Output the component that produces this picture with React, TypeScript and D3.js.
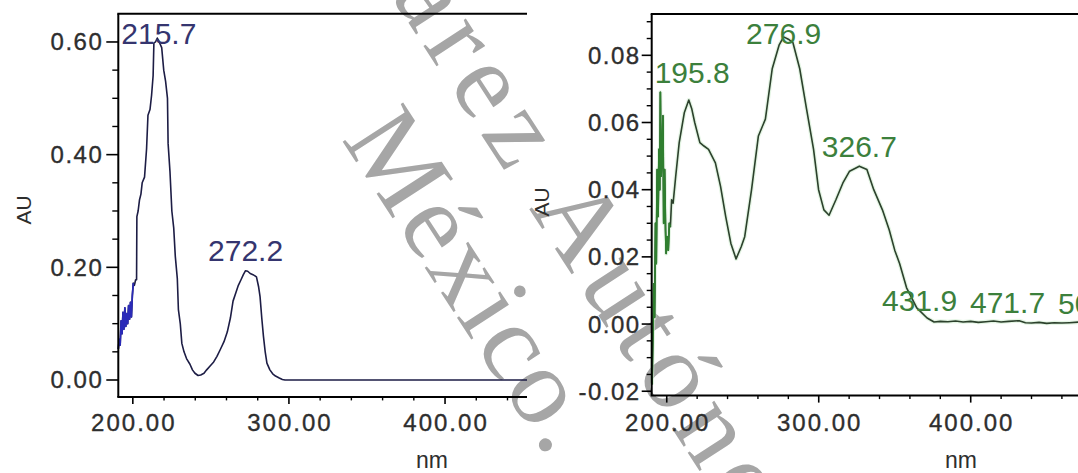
import React from 'react';
import * as d3 from 'd3';

// ---- Left spectrum (blue trace) ----
const LEFT_NM = [
  190.7, 191.3, 191.9, 192.5, 193.1, 193.7, 194.3, 194.9, 195.5, 196.1, 196.7, 197.3, 197.9, 198.5,
  199.1, 199.7, 200.3, 201.0, 201.8, 202.4, 202.6, 203.4, 204.3, 205.2, 206.0, 207.5, 208.8, 209.7,
  211.0, 212.0, 213.0, 213.5, 214.5, 215.7, 216.9, 218.5, 219.8, 221.0, 222.2, 222.6, 223.8, 225.0,
  226.2, 227.2, 228.5, 229.2, 230.4, 231.4, 232.8, 234.4, 236.6, 238.2, 239.8, 241.8, 243.5, 245.6,
  247.3, 249.5, 251.8, 253.9, 256.2, 258.4, 260.5, 262.5, 264.2, 266.0, 267.6, 269.3, 270.8, 272.2,
  273.6, 275.2, 277.0, 279.2, 280.6, 281.5, 282.6, 283.7, 284.8, 285.9, 287.8, 289.6, 291.4, 293.5,
  295.8, 297.5, 452.5,
];
const LEFT_AU = [
  0.055, 0.072, 0.062, 0.105, 0.082, 0.12, 0.09, 0.128, 0.095, 0.118, 0.1, 0.132, 0.108, 0.138,
  0.112, 0.15, 0.172, 0.168, 0.178, 0.178, 0.29, 0.3, 0.32, 0.33, 0.35, 0.36, 0.41, 0.47,
  0.48, 0.505, 0.54, 0.598, 0.6, 0.607, 0.6, 0.59, 0.55, 0.53, 0.5, 0.42, 0.37, 0.3,
  0.27, 0.22, 0.18, 0.125, 0.1, 0.065, 0.05, 0.038, 0.028, 0.018, 0.012, 0.008, 0.009, 0.012,
  0.018, 0.025, 0.032, 0.042, 0.055, 0.068, 0.085, 0.11, 0.14, 0.155, 0.168, 0.178, 0.187, 0.194,
  0.193, 0.189, 0.187, 0.183, 0.165, 0.148, 0.11, 0.077, 0.05, 0.03, 0.018, 0.011, 0.007, 0.004,
  0.001, 0, 0,
];
const LEFT_PEAKS = ['215.7', '272.2'];
const LEFT_Y_TICKS = [0, 0.2, 0.4, 0.6];
const LEFT_Y_LABELS = ['0.00', '0.20', '0.40', '0.60'];

// ---- Right spectrum (green trace) ----
const RIGHT_NM = [
  190.3, 190.9, 191.5, 192.0, 192.6, 193.1, 193.7, 194.3, 194.9, 195.4, 195.8, 196.3, 196.9, 197.5,
  198.0, 198.6, 199.2, 199.6, 200.3, 201.0, 201.7, 202.4, 203.2, 204.2, 205.9, 208.2, 211.6, 214.5,
  216.5, 218.4, 221.8, 224.5, 227.5, 232.0, 235.4, 238.8, 242.2, 245.6, 249.0, 251.3, 255.8, 260.3,
  264.9, 269.4, 273.9, 276.9, 280.0, 283.0, 287.5, 292.0, 296.6, 299.9, 303.4, 306.8, 311.3, 315.9,
  320.3, 326.7, 331.7, 336.2, 341.9, 346.4, 350.0, 353.2, 357.8, 364.5, 371.3, 375.9, 380, 385,
  390, 395, 400, 405, 410, 415, 420, 425, 431.9, 436, 440, 445, 450, 455, 460, 465, 471.7, 475, 480,
];
const RIGHT_AU = [
  -0.018, -0.004, 0.012, 0.002, 0.03, 0.018, 0.046, 0.032, 0.052, 0.04, 0.069, 0.044, 0.05, 0.062,
  0.03, 0.046, 0.028, 0.021, 0.026, 0.022, 0.03, 0.029, 0.037, 0.036, 0.044, 0.054, 0.063, 0.0667,
  0.064, 0.06, 0.054, 0.053, 0.052, 0.048, 0.041, 0.032, 0.024, 0.0194, 0.023, 0.026, 0.04, 0.056,
  0.061, 0.076, 0.083, 0.0855, 0.0848, 0.0838, 0.076, 0.064, 0.052, 0.04, 0.034, 0.0324, 0.037, 0.042,
  0.0455, 0.047, 0.046, 0.04, 0.034, 0.028, 0.022, 0.018, 0.0108, 0.0048, 0.0018, 0.0006, 0.0008, 0.0007,
  0.0009, 0.0006, 0.0008, 0.0005, 0.0007, 0.0009, 0.0006, 0.0008, 0.001, 0.0004, 0.0003, 0.0005, 0.0002, 0.0004,
  0.0003, 0.0004, 0.0006, 0.0002, 0.0003,
];
const RIGHT_PEAKS = ['195.8', '276.9', '326.7', '431.9', '471.7', '505.8'];
const RIGHT_Y_TICKS = [-0.02, 0, 0.02, 0.04, 0.06, 0.08];
const RIGHT_Y_LABELS = ['-0.02', '0.00', '0.02', '0.04', '0.06', '0.08'];

const X_TICKS = [200, 300, 400];
const X_LABELS = ['200.00', '300.00', '400.00'];

const SANS = "'Liberation Sans', Arial, sans-serif";
const INK = '#2e2e2e';

type PanelProps = {
  nm: number[];
  au: number[];
  peaks: string[];
  xDomain: [number, number];
  xRange: [number, number];
  yDomain: [number, number];
  yRange: [number, number];
  yTicks: number[];
  yLabels: string[];
  yMinorStep: number;
  majorLen: number;
  minorLen: number;
  labelGap: number;
  lineColor: string;
  noiseColor: string;
  noiseEnd: number;
  halo?: string;
  labelColor: string;
  auPos: [number, number];
  nmPos: [number, number];
  chainFrom?: number; // peaks beyond this wavelength are set as a packed run
  chainX?: number;
  chainStep?: number;
};

function Panel(p: PanelProps) {
  const x = d3.scaleLinear().domain(p.xDomain).range(p.xRange);
  const y = d3.scaleLinear().domain(p.yDomain).range(p.yRange);
  const [x0, x1] = p.xRange;
  const [yb, yt] = p.yRange;

  const pts = p.nm.map((n, i) => [n, p.au[i]] as [number, number]);
  const line = d3
    .line<[number, number]>()
    .x((d) => x(d[0]))
    .y((d) => y(d[1]));
  const noisePts = pts.filter((d) => d[0] <= p.noiseEnd);

  const xMinor = d3.range(200, p.xDomain[1], 20).filter((v) => v % 100 !== 0);
  const yMinor = d3
    .range(Math.ceil(p.yDomain[0] / p.yMinorStep) * p.yMinorStep, p.yDomain[1], p.yMinorStep)
    .filter((v) => !p.yTicks.some((t) => Math.abs(t - v) < 1e-6));

  const peakFont = 30;
  const labelW = peakFont * 2.5;
  let chainIdx = 0;

  const tickText = {
    fontFamily: SANS,
    fontSize: 24,
    fill: INK,
    stroke: INK,
    strokeWidth: 0.35,
  };

  return (
    <g>
      {/* trace */}
      {p.halo && (
        <path d={line(pts) || ''} fill="none" stroke={p.halo} strokeWidth={4} strokeOpacity={0.55} strokeLinejoin="round" />
      )}
      <path d={line(pts) || ''} fill="none" stroke={p.lineColor} strokeWidth={1.6} strokeLinejoin="round" />
      <path d={line(noisePts) || ''} fill="none" stroke={p.noiseColor} strokeWidth={1.7} strokeLinejoin="round" />

      {/* frame */}
      <line x1={x0} x2={x0} y1={yt} y2={yb} stroke="#000" strokeWidth={2} />
      <line x1={x0 - 1} x2={x1} y1={yb} y2={yb} stroke="#000" strokeWidth={2} />
      <line x1={x0 - 1} x2={x1} y1={yt} y2={yt} stroke="#000" strokeWidth={2} />

      {/* x ticks */}
      {X_TICKS.map((t, i) => (
        <g key={'xt' + t}>
          <line x1={x(t)} x2={x(t)} y1={yb} y2={yb + 7} stroke="#000" strokeWidth={1.6} />
          <text x={x(t) + 1} y={431} textAnchor="middle" letterSpacing={2} {...tickText}>
            {X_LABELS[i]}
          </text>
        </g>
      ))}
      {xMinor.map((t) => (
        <line key={'xm' + t} x1={x(t)} x2={x(t)} y1={yb} y2={yb + 3.5} stroke="#000" strokeWidth={1.4} />
      ))}

      {/* y ticks */}
      {p.yTicks.map((t, i) => (
        <g key={'yt' + t}>
          <line x1={x0 - p.majorLen} x2={x0} y1={y(t)} y2={y(t)} stroke="#000" strokeWidth={1.6} />
          <text x={x0 - p.majorLen - p.labelGap} y={y(t) + 8.5} textAnchor="end" letterSpacing={1.5} {...tickText}>
            {p.yLabels[i]}
          </text>
        </g>
      ))}
      {yMinor.map((t) => (
        <line key={'ym' + t} x1={x0 - p.minorLen} x2={x0} y1={y(t)} y2={y(t)} stroke="#000" strokeWidth={1.4} />
      ))}

      {/* peak labels */}
      {p.peaks.map((lab) => {
        const n = +lab;
        const i = d3.minIndex(p.nm, (v) => Math.abs(v - n));
        const py = y(p.au[i]);
        const by = Math.max(py - 9.5, 44);
        let sx: number;
        if (p.chainFrom !== undefined && n > p.chainFrom) {
          sx = (p.chainX as number) + chainIdx * (p.chainStep as number);
          chainIdx += 1;
        } else {
          sx = Math.max(x(n) - labelW / 2, x0 + 3);
        }
        return (
          <text key={'pk' + lab} x={sx} y={by} fontFamily={SANS} fontSize={peakFont} fill={p.labelColor}>
            {lab}
          </text>
        );
      })}

      {/* axis titles */}
      <text
        transform={`translate(${p.auPos[0]},${p.auPos[1]}) rotate(-90)`}
        textAnchor="middle"
        fontFamily={SANS}
        fontSize={21}
        fill={INK}
      >
        AU
      </text>
      <text x={p.nmPos[0]} y={p.nmPos[1]} textAnchor="middle" fontFamily={SANS} fontSize={23} fill={INK}>
        nm
      </text>
    </g>
  );
}

export default function App() {
  return (
    <svg
      width={1078}
      height={473}
      viewBox="0 0 1078 473"
      style={{ position: 'absolute', left: 0, top: 0, background: '#fff' }}
    >
      <rect width={1078} height={473} fill="#fff" />

      {/* institutional watermark */}
      <g fontFamily="'Liberation Serif', 'Times New Roman', serif" fontSize={110} fill="#a6a6a6">
        <text transform="translate(326,-104) rotate(57)" letterSpacing={10}>
          Juárez Autónoma de
        </text>
        <text transform="translate(341,139) rotate(57)" letterSpacing={3}>
          México.
        </text>
      </g>

      <Panel
        nm={LEFT_NM}
        au={LEFT_AU}
        peaks={LEFT_PEAKS}
        xDomain={[190.7, 452.5]}
        xRange={[118.3, 527]}
        yDomain={[-0.03, 0.65]}
        yRange={[396.9, 13.8]}
        yTicks={LEFT_Y_TICKS}
        yLabels={LEFT_Y_LABELS}
        yMinorStep={0.05}
        majorLen={12}
        minorLen={6}
        labelGap={3}
        lineColor="#1d1d45"
        noiseColor="#2a2ab8"
        noiseEnd={200.3}
        labelColor="#35356f"
        auPos={[31, 210]}
        nmPos={[432, 468]}
      />
      <Panel
        nm={RIGHT_NM}
        au={RIGHT_AU}
        peaks={RIGHT_PEAKS}
        xDomain={[190.1, 480]}
        xRange={[651.7, 1092.3]}
        yDomain={[-0.0213, 0.0923]}
        yRange={[395.6, 14]}
        yTicks={RIGHT_Y_TICKS}
        yLabels={RIGHT_Y_LABELS}
        yMinorStep={0.005}
        majorLen={10}
        minorLen={5}
        labelGap={1}
        lineColor="#2c412c"
        noiseColor="#2f7f2f"
        noiseEnd={202.4}
        halo="#cdeccd"
        labelColor="#3c803c"
        auPos={[549, 202]}
        nmPos={[961, 468]}
        chainFrom={400}
        chainX={882}
        chainStep={88}
      />
    </svg>
  );
}
